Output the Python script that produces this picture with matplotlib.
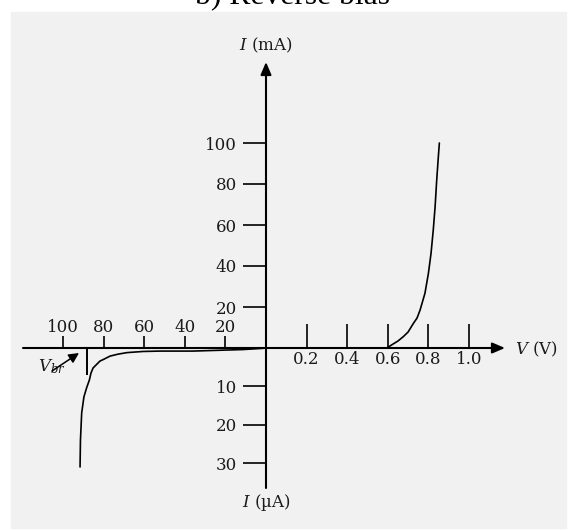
import numpy as np
import matplotlib
matplotlib.use('Agg')
import matplotlib.pyplot as plt
from matplotlib.patches import Rectangle

plt.rcParams['mathtext.fontset'] = 'dejavuserif'

# forward bias: voltage (V) and current (mA)
fwd_v = [0.595, 0.611, 0.627, 0.650, 0.676, 0.700, 0.726, 0.744, 0.759, 0.783,
         0.800, 0.813, 0.824, 0.833, 0.841, 0.849, 0.854]
fwd_i = [0, 1.0, 2.0, 3.4, 5.5, 7.8, 12.0, 14.6, 18.5, 26.7,
         36.4, 46.2, 57.6, 68.9, 82.0, 93.3, 100.0]

# reverse bias: voltage (V) and current (uA)
rev_v = [0, 2.0, 11.3, 36.0, 52.2, 60.6, 68.5, 72.9, 76.8, 79.8, 81.8, 83.7,
         85.2, 86.2, 87.0, 88.4, 89.7, 90.8, 91.4, 91.6]
rev_i = [0, 0.1, 0.4, 0.8, 0.8, 0.9, 1.2, 1.6, 2.1, 2.9, 3.4, 4.4,
         5.2, 6.5, 8.3, 10.4, 12.7, 16.9, 23.9, 30.9]
v_br = 88

fwd_v_ticks = [0.2, 0.4, 0.6, 0.8, 1.0]
fwd_v_labels = ['0.2', '0.4', '0.6', '0.8', '1.0']
rev_v_ticks = [20, 40, 60, 80, 100]
fwd_i_ticks = [20, 40, 60, 80, 100]
rev_i_ticks = [10, 20, 30]

# drawing scales: reverse volts are shown 1/100, reverse uA stretched
REV_V_SCALE = 0.01
UA_SCALE = 1.878
PX_X = 203.0   # pixels per volt
PX_Y = 2.05    # pixels per mA
OX, OY = 266, 348  # origin in pixels

fig = plt.figure(figsize=(5.68, 5.30), dpi=100)
fig.patches.append(Rectangle((11 / 568, 2 / 530), 555 / 568, 516 / 530,
                             transform=fig.transFigure, color='#f1f1f1', zorder=-1))
ax = fig.add_axes([0, 0, 1, 1])
ax.set_xlim(-OX / PX_X, (568 - OX) / PX_X)
ax.set_ylim(-(530 - OY) / PX_Y, OY / PX_Y)
ax.axis('off')

def dx(px):
    return px / PX_X

def dy(px):
    return px / PX_Y

font = dict(family='DejaVu Serif', fontsize=12, color='#1a1a1a')

# axes with arrows
arrow = dict(arrowstyle='-|>,head_length=0.75,head_width=0.32', color='black',
             lw=1.5, shrinkA=0, shrinkB=0)
ax.annotate('', xy=(dx(505 - OX), 0), xytext=(dx(23 - OX), 0), arrowprops=arrow)
ax.annotate('', xy=(0, dy(OY - 62)), xytext=(0, -dy(488 - OY)), arrowprops=arrow)

# forward voltage ticks
ax.vlines(fwd_v_ticks, 0, dy(24), color='black', lw=1.2)
for t, lab in zip(fwd_v_ticks, fwd_v_labels):
    ax.text(t, -dy(15.5), lab, ha='center', va='baseline', **font)

# reverse voltage ticks
rx = [-v * REV_V_SCALE for v in rev_v_ticks]
ax.vlines(rx, 0, dy(12), color='black', lw=1.2)
for x, v in zip(rx, rev_v_ticks):
    ax.text(x, dy(16), str(v), ha='center', va='baseline', **font)

# current ticks
ax.hlines(fwd_i_ticks, -dx(23), 0, color='black', lw=1.2)
for t in fwd_i_ticks:
    ax.text(-dx(29), t - dy(6.5), str(t), ha='right', va='baseline', **font)
ry = [-i * UA_SCALE for i in rev_i_ticks]
ax.hlines(ry, -dx(23), 0, color='black', lw=1.2)
for y, i in zip(ry, rev_i_ticks):
    ax.text(-dx(29), y - dy(6.5), str(i), ha='right', va='baseline', **font)

# curves
ax.plot(fwd_v, fwd_i, color='black', lw=1.2, solid_capstyle='round',
        solid_joinstyle='round')
ax.plot([-v * REV_V_SCALE for v in rev_v], [-i * UA_SCALE for i in rev_i],
        color='black', lw=1.2, solid_capstyle='round', solid_joinstyle='round')

# breakdown marker
xb = -v_br * REV_V_SCALE
ax.vlines(xb, -dy(27), 0, color='black', lw=1.4)
ax.text(dx(38 - OX), -dy(371 - OY), '$V_{br}$', ha='left', va='baseline', **font)
ax.annotate('', xy=(dx(79 - OX), -dy(353 - OY)), xytext=(dx(52 - OX), -dy(371 - OY)),
            arrowprops=dict(arrowstyle='-|>,head_length=0.6,head_width=0.3',
                            color='black', lw=1.1, shrinkA=0, shrinkB=0))

# axis labels
ax.text(0, dy(OY - 45), '$I$ (mA)', ha='center', va='center', **font)
ax.text(0, -dy(507 - OY), '$I$ (\u00b5A)', ha='center', va='baseline', **font)
ax.text(dx(515 - OX), -dy(354 - OY), '$V$ (V)', ha='left', va='baseline', **font)

fig.text(292.5 / 568, 1 - 4 / 530, 'b) Reverse bias', ha='center', va='baseline',
         fontsize=22.8, family='Liberation Serif')

fig.savefig('out.png', dpi=100)
